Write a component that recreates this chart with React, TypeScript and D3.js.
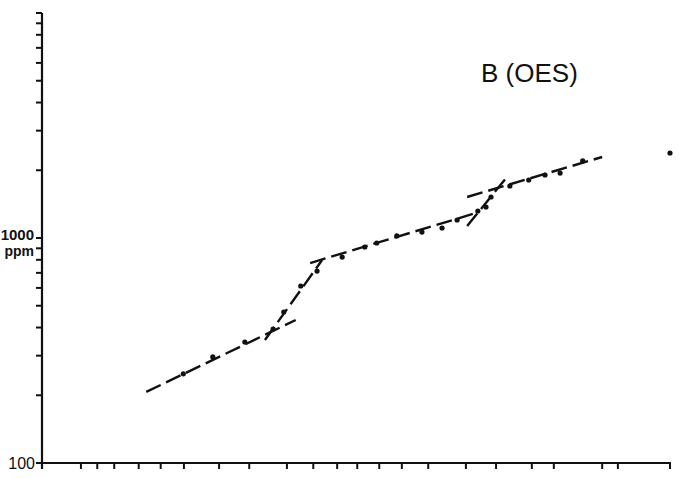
import React from "react";
import * as d3 from "d3";

// Measured points: position along the profile vs. concentration (ppm)
const pointX = [22.5, 27.2, 32.3, 36.8, 38.5, 41.2, 43.8, 47.8, 51.4, 53.3, 56.5, 60.5, 63.7, 66.1, 69.4, 70.7, 71.5, 74.5, 77.5, 80.1, 82.5, 86.1, 100];
const pointY = [249, 296, 345, 394, 469, 612, 713, 823, 912, 950, 1021, 1063, 1108, 1202, 1318, 1373, 1521, 1703, 1810, 1905, 1944, 2200, 2386];

// Fitted line segments: [x1, y1, x2, y2]
const fitSegments: [number, number, number, number][] = [
  [16.6, 207, 40.4, 432],
  [35.5, 352, 44.6, 798],
  [42.7, 774, 68.6, 1279],
  [67.7, 1131, 73.9, 1848],
  [67.7, 1521, 89.2, 2291],
];

const xTicks = [0, 6.2, 8.8, 11.5, 15.4, 18.9, 22.6, 28.2, 33, 39, 43.2, 47, 50.2, 53.7, 57.3, 61.5, 67.5, 72.3, 78, 81.5, 89.2, 91.7, 100];
const yTicks = [100, 200, 300, 400, 500, 600, 700, 800, 900, 1000, 2000, 3000, 4000, 5000, 6000, 7000, 8000, 9000, 10000];

const W = 683;
const H = 478;
const FONT = "'Liberation Sans', Arial, Helvetica, sans-serif";
const INK = "#111";

export default function App() {
  const x = d3.scaleLinear().domain([0, 100]).range([42, 670]);
  const y = d3.scaleLog().domain([100, 10000]).range([463, 13]);

  return (
    <svg
      width={W}
      height={H}
      style={{ position: "absolute", left: 0, top: 0, background: "#fff" }}
    >
      {/* axes */}
      <line x1={x(0)} y1={y(10000)} x2={x(0)} y2={y(100) + 6} stroke={INK} strokeWidth={2.2} />
      <line x1={x(0) - 5} y1={y(100)} x2={x(100) + 1} y2={y(100)} stroke={INK} strokeWidth={2.2} />
      {yTicks.map((t) => (
        <line key={"yt" + t} x1={x(0) - 6} x2={x(0)} y1={y(t)} y2={y(t)} stroke={INK} strokeWidth={2} />
      ))}
      {xTicks.map((t) => (
        <line key={"xt" + t} x1={x(t)} x2={x(t)} y1={y(100)} y2={y(100) + 6} stroke={INK} strokeWidth={2} />
      ))}

      {/* axis labels */}
      <text x={35} y={y(100)} dy="0.36em" textAnchor="end" fontFamily={FONT} fontSize={16} fill={INK}>100</text>
      <text x={34} y={240} textAnchor="end" fontFamily={FONT} fontSize={15} fontWeight="bold" fill={INK}>1000</text>
      <text x={34} y={256} textAnchor="end" fontFamily={FONT} fontSize={14} fontWeight="bold" fill={INK}>ppm</text>

      {/* fitted lines */}
      {fitSegments.map((s, i) => (
        <line
          key={"seg" + i}
          x1={x(s[0])}
          y1={y(s[1])}
          x2={x(s[2])}
          y2={y(s[3])}
          stroke={INK}
          strokeWidth={2.4}
          strokeDasharray="16 6"
        />
      ))}

      {/* data points */}
      {pointX.map((px, i) => (
        <circle key={"pt" + i} cx={x(px)} cy={y(pointY[i])} r={2.6} fill={INK} />
      ))}

      <text x={481} y={82} fontFamily={FONT} fontSize={26} fill={INK}>B (OES)</text>
    </svg>
  );
}
